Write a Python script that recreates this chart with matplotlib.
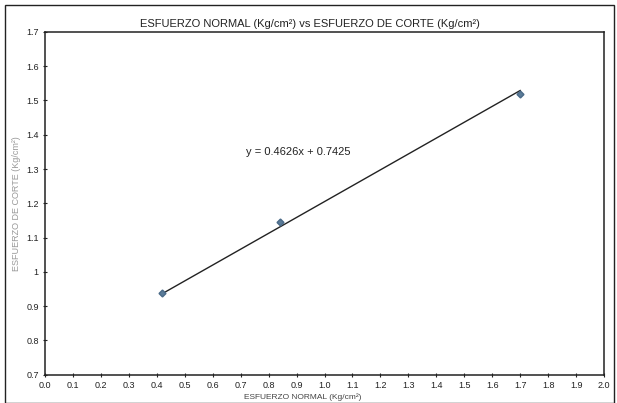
import matplotlib.pyplot as plt
from matplotlib.patches import Rectangle
import numpy as np

# datos
esfuerzo_normal = [0.42, 0.84, 1.70]
esfuerzo_corte = [0.938, 1.145, 1.519]
pendiente = 0.4626
intercepto = 0.7425
x_ticks = [round(0.1 * i, 1) for i in range(21)]
y_ticks = [0.7, 0.8, 0.9, 1.0, 1.1, 1.2, 1.3, 1.4, 1.5, 1.6, 1.7]
y_labels = ["0.7", "0.8", "0.9", "1", "1.1", "1.2", "1.3", "1.4", "1.5", "1.6", "1.7"]

plt.rcParams['font.family'] = ['Liberation Sans Narrow', 'Liberation Sans', 'DejaVu Sans']

fig = plt.figure(figsize=(6.17, 4.03), dpi=100)
ax = fig.add_axes([0.073, 0.07, 0.906, 0.851])

# marco exterior
fig.patches.append(Rectangle((0.008, 0.0), 0.987, 0.988, transform=fig.transFigure,
                             fill=False, edgecolor="#222222", linewidth=1.0))

# linea de tendencia
xl = np.array([min(esfuerzo_normal), max(esfuerzo_normal)])
ax.plot(xl, pendiente * xl + intercepto, color="#222222", linewidth=1.0)
ax.plot(esfuerzo_normal, esfuerzo_corte, linestyle="none", marker="D", markersize=3.5,
        color="#5b7c99", markeredgecolor="#4a6a88")

ax.set_xlim(0, 2.0)
ax.set_ylim(0.7, 1.7)
ax.set_xticks(x_ticks)
ax.set_xticklabels([f"{v:.1f}" for v in x_ticks])
ax.set_yticks(y_ticks)
ax.set_yticklabels(y_labels)
ax.tick_params(labelsize=6.5, length=3, width=0.8, direction="inout", colors="#222222", pad=3)

for s in ax.spines.values():
    s.set_linewidth(1.1)
    s.set_color("#222222")

ax.text(0.905, 1.351, f"y = {pendiente}x + {intercepto}", fontsize=8, ha="center", va="center",
        color="#222222")

fig.text(0.503, 0.94, "ESFUERZO NORMAL (Kg/cm²) vs ESFUERZO DE CORTE (Kg/cm²)",
         ha="center", va="center", fontsize=8, color="#222222")
fig.text(0.49, 0.004, "ESFUERZO NORMAL (Kg/cm²)", ha="center", va="bottom",
         fontsize=6, color="#444444")
ax.set_ylabel("ESFUERZO DE CORTE (Kg/cm²)", fontsize=6.5, color="#999999", labelpad=4)

fig.savefig("out.png", dpi=100)
